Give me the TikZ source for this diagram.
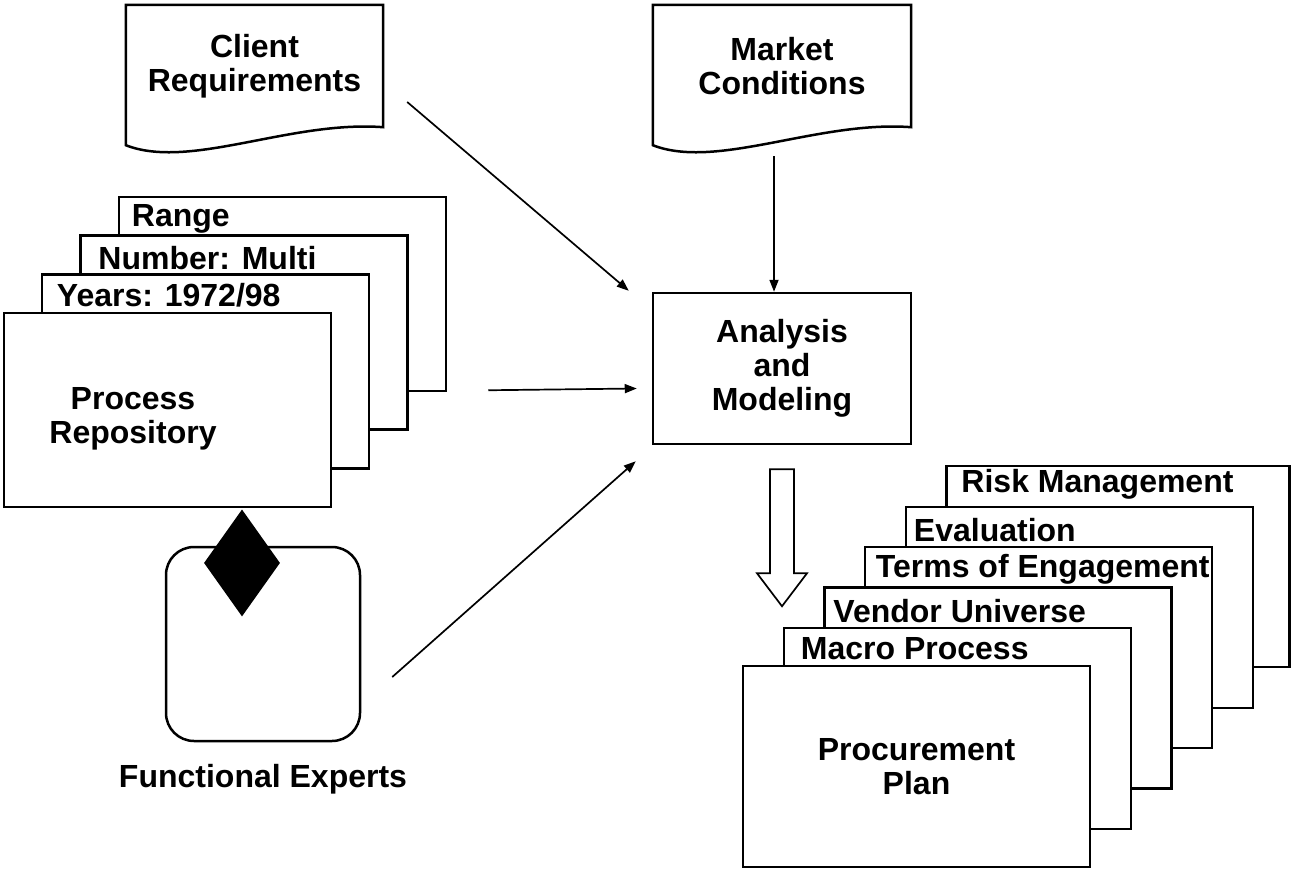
\documentclass[tikz,border=0pt]{standalone}
\usepackage{fontspec}
\setmainfont{Liberation Sans}
\usetikzlibrary{shapes.geometric,arrows.meta,positioning}

\tikzset{
  page/.style={draw, line width=2.5pt, fill=white, minimum width=327pt, minimum height=194pt, inner sep=0pt},
  planpage/.style={page, minimum width=347pt, minimum height=201pt},
  tab/.style={anchor=base west, inner sep=0pt},
  docbox/.style={minimum width=257pt, minimum height=122pt, align=center},
  arr/.style={-{Triangle[length=12pt,width=9pt]}, line width=1.7pt},
}

\begin{document}
\begin{tikzpicture}[x=1pt, y=-1pt, every node/.style={font=\fontsize{32}{34}\selectfont\bfseries}]
			\useasboundingbox (0,0) rectangle (1293,870);
			
			% inputs
			\node[docbox] (client) at (254.5,66) {Client\\Requirements};
			\draw[line width=2.5pt] (client.north west) -- (client.north east) -- (client.south east) .. controls ([shift={(-93,-7)}]client.south east) and ([shift={(64,43)}]client.south west) .. ([shift={(0,18)}]client.south west) -- cycle;
			\node[docbox, minimum width=258pt] (market) at (782,66) {Market\\Conditions};
			\draw[line width=2.5pt] (market.north west) -- (market.north east) -- (market.south east) .. controls ([shift={(-93,-7)}]market.south east) and ([shift={(64,43)}]market.south west) .. ([shift={(0,18)}]market.south west) -- cycle;
			
			\node[draw, line width=2.5pt, minimum width=258pt, minimum height=151pt, align=center] (analysis) at (782,368.5) {Analysis\\and\\Modeling};
			
			% repository stack
			\node[page] (range) at (282.5,294) {};
			\node[tab] (rangetab) at ([shift={(14,31)}]range.north west) {Range};
			\node[page] (number) at (244,332.5) {};
			\node[tab] (numbertab) at ([shift={(19,35)}]number.north west) {Number: Multi};
			\node[page] (years) at (205.5,371.5) {};
			\node[tab] (yearstab) at ([shift={(16,33)}]years.north west) {Years: 1972/98};
			\node[page] (repo) at (167.5,410) {};
			\node[align=center] (repotext) at ([shift={(-34.5,9)}]repo.center) {Process\\Repository};
			
			\node[draw, line width=2.5pt, rounded corners=28pt, minimum width=194pt, minimum height=194pt] (experts) at (263,644) {};
			\node[diamond, fill=black, inner sep=0pt, minimum width=76pt, minimum height=107pt, anchor=north] (link) at ([shift={(74.5,1)}]repo.south) {};
			\node (expertsname) at ([shift={(0,37)}]experts.south) {Functional Experts};
			
			% plan stack
			\node[planpage, minimum width=343pt] (risk) at (1118,566.5) {};
			\node[tab] (risktab) at ([shift={(16,28)}]risk.north west) {Risk Management};
			\node[planpage] (evaluation) at (1079.5,607.5) {};
			\node[tab] (evaluationtab) at ([shift={(9,36)}]evaluation.north west) {Evaluation};
			\node[planpage] (terms) at (1038.5,647.5) {};
			\node[tab] (termstab) at ([shift={(12,32)}]terms.north west) {Terms of Engagement};
			\node[planpage] (vendor) at (998,688) {};
			\node[tab] (vendortab) at ([shift={(10,36)}]vendor.north west) {Vendor Universe};
			\node[planpage] (macro) at (957.5,728.5) {};
			\node[tab] (macrotab) at ([shift={(18,33)}]macro.north west) {Macro Process};
			\node[planpage, align=center] (plan) at (916.5,766.5) {Procurement\\Plan};
			
			% connectors
			\draw[arr] ([shift={(24,36)}]client.east) -- ([shift={(-23,-1)}]analysis.north west);
			\draw[arr] ([shift={(-8,29)}]market.south) -- ([shift={(-8,0)}]analysis.north);
			\draw[arr] ([shift={(41,-2)}]range.south east) -- ([shift={(-15,20)}]analysis.west);
			\draw[arr] ([shift={(31,33)}]experts.east) -- ([shift={(-16,16)}]analysis.south west);
			
			\coordinate (flowtop) at ([shift={(-0.5,24)}]analysis.south);
			\draw[line width=1.7pt, fill=white] ([shift={(-11.5,0)}]flowtop) -- ++(0,104) -- ++(-13,0) -- ++(25,33) -- ++(25,-33) -- ++(-13,0) -- ++(0,-104) -- cycle;
		\end{tikzpicture}
\end{document}
